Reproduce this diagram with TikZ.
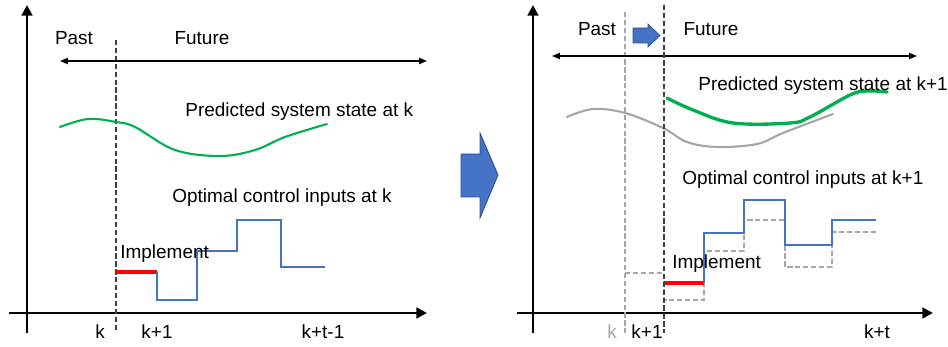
\documentclass[tikz,border=0pt]{standalone}
\usepackage{fontspec}
\setmainfont{Liberation Sans}
\usetikzlibrary{arrows.meta, positioning}

\definecolor{stategreen}{HTML}{00B050}
\definecolor{inputblue}{HTML}{4472C4}
\definecolor{arrowedge}{HTML}{2F528F}
\definecolor{oldgray}{HTML}{A6A6A6}

\begin{document}
\begin{tikzpicture}[
        x=0.02cm, y=-0.02cm,
        font=\fontsize{10.8}{13}\selectfont,
        axis/.style={line width=1.7pt, -{Triangle[length=6pt, width=6pt]}},
        span/.style={line width=1pt, {Triangle[length=4.5pt, width=3.5pt]}-{Triangle[length=4.5pt, width=3.5pt]}},
        nowline/.style={line width=0.9pt, black!75, dash pattern=on 3pt off 1.5pt},
        oldline/.style={line width=1.2pt, oldgray, dash pattern=on 3pt off 1.5pt},
        state/.style={line width=1.2pt, stategreen, line cap=round},
        inputs/.style={line width=1.3pt, inputblue},
        applied/.style={line width=1.9pt, red},
        lbl/.style={inner sep=0pt}
    ]

    \useasboundingbox (0,0) rectangle (948,347);

    % --- Left panel: horizon at k ---
    \coordinate (yaxisL) at (27,333);
    \coordinate (xaxisL) at (9,313);
    \draw[axis] (yaxisL) -- (27,5);
    \draw[axis] (xaxisL) -- (427,313);
    \draw[nowline] (116,40) -- (116,332);
    \draw[span] (60,61) -- (427,61);

    \node[lbl] (pastL) at (74,38) {Past};
    \node[lbl] (futureL) at (202,38) {Future};

    % predicted state
    \draw[state] plot[smooth, tension=0.6] coordinates {
        (60,127) (88,119) (116,122) (135,127) (175,150) (220,156)
        (255,150) (285,137) (327,124)};
    \node[lbl, anchor=west] (stateL) at (185,112) {Predicted system state at k};

    % control inputs
    \node[lbl, anchor=west] (inputL) at (172,198) {Optimal control inputs at k};
    \draw[applied] (116,272) -- (157,272);
    \draw[inputs] (157,272) -- (157,300) -- (197,300) -- (197,251) -- (237,251)
        -- (237,220) -- (281,220) -- (281,267) -- (325,267);
    \node[lbl, anchor=west] (implL) at (120,254) {Implement};

    \node[lbl] (kL) at (100,332) {k};
    \node[lbl] (k1L) at (157,332) {k+1};
    \node[lbl] (ktL) at (323,332) {k+t-1};

    % --- Shift arrow between panels ---
    \draw[arrowedge, fill=inputblue, line width=0.5pt]
        (461,154) -- (480,154) -- (480,133) -- (498,175) -- (480,218)
        -- (480,197) -- (461,197) -- cycle;

    % --- Right panel: horizon at k+1 ---
    \coordinate (yaxisR) at (533,333);
    \coordinate (xaxisR) at (517,313);
    \draw[axis] (yaxisR) -- (533,5);
    \draw[axis] (xaxisR) -- (933,313);
    \draw[oldline, line width=0.9pt] (625,12) -- (625,333);
    \draw[span] (552,56) -- (917,56);

    \node[lbl] (pastR) at (597,29) {Past};
    \node[lbl] (futureR) at (711,29) {Future};
    \draw[arrowedge, fill=inputblue, line width=0.4pt]
        (633,28) -- (648,28) -- (648,24) -- (660,35.5) -- (648,47)
        -- (648,43) -- (633,43) -- cycle;

    % old and new predicted state
    \draw[line width=1.2pt, oldgray, line cap=round] plot[smooth, tension=0.6] coordinates {
        (567,117) (593,109) (625,113) (663,128) (687,142) (717,147)
        (757,144) (783,133) (833,114)};
    \draw[state, line width=1.9pt] plot[smooth, tension=0.6] coordinates {
        (667,98) (693,110) (733,123) (790,123) (810,117) (850,95)
        (867,91) (887,92)};
    \node[lbl, anchor=west] (stateR) at (698,86) {Predicted system state at k+1};

    % old and new control inputs
    \node[lbl, anchor=west] (inputR) at (682,180) {Optimal control inputs at k+1};
    \draw[oldline] (625,273) -- (664,273) -- (664,300) -- (704,300) -- (704,251)
        -- (744,251) -- (744,220) -- (785,220) -- (785,267) -- (832,267)
        -- (832,232) -- (876,232);
    \draw[applied] (664,283) -- (704,283);
    \draw[inputs] (704,283) -- (704,233) -- (744,233) -- (744,200) -- (785,200)
        -- (785,245) -- (832,245) -- (832,220) -- (876,220);
    \draw[nowline] (664,5) -- (664,333);
    \node[lbl, anchor=west] (implR) at (672,264) {Implement};

    \node[lbl, text=oldgray] (kR) at (612,332) {k};
    \node[lbl] (k1R) at (647,332) {k+1};
    \node[lbl] (ktR) at (877,332) {k+t};

\end{tikzpicture}
\end{document}
